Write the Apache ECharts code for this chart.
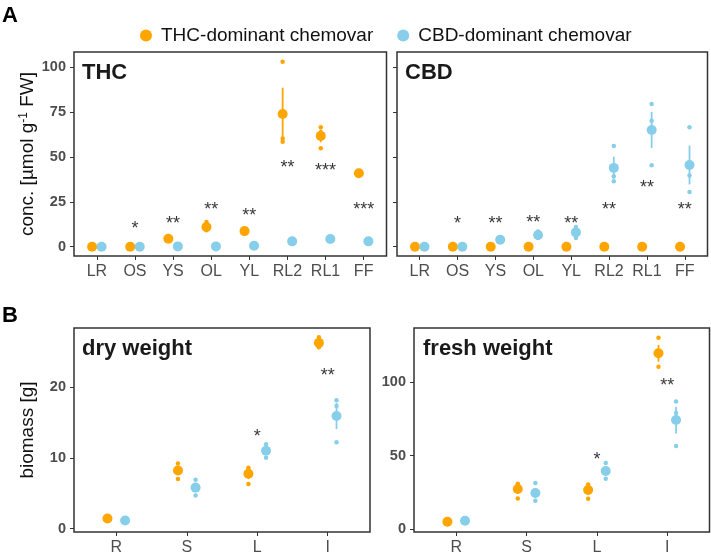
<!DOCTYPE html>
<html><head><meta charset="utf-8">
<script src="https://cdn.jsdelivr.net/npm/echarts@6/dist/echarts.min.js"></script>
<style>html,body{margin:0;padding:0;background:#fff}#c{width:711px;height:559px}</style>
</head><body><div id="c"></div>
<script>
// ---------- DATA ----------
const chemCats = ['LR','OS','YS','OL','YL','RL2','RL1','FF'];
const bioCats = ['R','S','L','I'];
const groups = ['THC-dominant chemovar','CBD-dominant chemovar'];

// THC panel
const thcMeanT = [0, 0, 4.5, 11.0, 8.7, 73.9, 61.7, 40.9];
const thcLoT   = [0, 0, 4.0, 9.6, 8.0, 59.3, 58.2, 40.2];
const thcHiT   = [0, 0, 5.0, 12.4, 9.4, 88.5, 65.2, 41.6];
const thcRepT  = [[0,0,0],[0,0,0],[4.9,4.5,4.1],[13.8,10.0,9.2],[9.4,8.7,8.0],[103.0,60.2,58.4],[66.5,63.8,54.8],[41.5,40.9,40.3]];
const thcMeanC = [0, 0, 0.2, 0.2, 0.6, 3.0, 4.3, 3.0];
const thcLoC   = [0, 0, 0.1, 0.1, 0.4, 2.6, 3.8, 2.6];
const thcHiC   = [0, 0, 0.3, 0.3, 0.8, 3.4, 4.8, 3.4];
const thcRepC  = [[0,0,0],[0,0,0],[0.2,0.2,0.2],[0.2,0.2,0.2],[0.8,0.6,0.4],[3.5,3.0,2.5],[5.0,4.3,3.6],[3.4,3.0,2.6]];
const thcStarY = [null, 12.6, 15.3, 22.9, 19.7, 46.5, 44.6, 22.9];
const thcStars = ['', '*', '**', '**', '**', '**', '***', '***'];

// CBD panel
const cbdMeanT = [0, 0, 0, 0, 0, 0, 0, 0];
const cbdLoT   = [0, 0, 0, 0, 0, 0, 0, 0];
const cbdHiT   = [0, 0, 0, 0, 0, 0, 0, 0];
const cbdRepT  = [[0,0,0],[0,0,0],[0,0,0],[0,0,0],[0,0,0],[0,0,0],[0,0,0],[0,0,0]];
const cbdMeanC = [0, 0, 3.9, 6.5, 8.0, 43.9, 65.0, 45.5];
const cbdLoC   = [0, 0, 3.5, 5.4, 6.2, 37.8, 54.9, 34.7];
const cbdHiC   = [0, 0, 4.3, 7.6, 9.8, 50.1, 75.1, 56.3];
const cbdRepC  = [[0,0,0],[0,0,0],[4.5,3.8,3.4],[8.5,6.2,4.8],[11.0,8.2,4.8],[56.1,39.2,36.4],[79.4,70.2,45.4],[66.5,39.6,30.5]];
const cbdStarY = [null, 14.9, 15.3, 15.8, 15.3, 22.9, 35.3, 22.9];
const cbdStars = ['', '*', '**', '**', '**', '**', '**', '**'];

// dry weight panel
const dryMeanT = [1.45, 8.2, 7.75, 26.2];
const dryLoT   = [1.35, 7.56, 7.0, 25.8];
const dryHiT   = [1.55, 8.84, 8.45, 26.6];
const dryRepT  = [[1.5,1.4,1.45],[9.2,8.4,7.0],[8.6,8.3,6.3],[27.0,26.0,25.6]];
const dryMeanC = [1.17, 5.8, 11.0, 15.9];
const dryLoC   = [1.1, 5.16, 10.45, 14.05];
const dryHiC   = [1.25, 6.44, 11.55, 17.75];
const dryRepC  = [[1.2,1.1,1.2],[6.9,5.8,4.7],[11.9,11.1,10.0],[18.1,17.3,12.2]];
const dryStarY = [null, null, 13.6, 22.1];
const dryStars = ['', '', '*', '**'];

// fresh weight panel
const freshMeanT = [5.0, 27.2, 26.5, 119.5];
const freshLoT   = [4.8, 24.0, 23.3, 113.8];
const freshHiT   = [5.2, 30.4, 29.7, 125.2];
const freshRepT  = [[5.2,4.8,5.0],[30.8,29.9,20.8],[30.3,28.6,20.6],[130.1,118.0,110.4]];
const freshMeanC = [5.6, 24.5, 39.5, 74.1];
const freshLoC   = [5.4, 21.0, 36.4, 65.0];
const freshHiC   = [5.8, 28.0, 42.6, 83.2];
const freshRepC  = [[5.8,5.5,5.6],[31.3,23.0,19.3],[44.9,39.4,34.2],[86.8,78.9,56.5]];
const freshStarY = [null, null, 49.7, 100.0];
const freshStars = ['', '', '*', '**'];

const panelTitles = ['THC', 'CBD', 'dry weight', 'fresh weight'];
const chemTicks = [0, 25, 50, 75, 100];
const dryTicks = [0, 10, 20];
const freshTicks = [0, 50, 100];

// ---------- STYLE ----------
const ORANGE = '#FFA500', BLUE = '#87CEEB';
const FONT = 'Liberation Sans, Arial, sans-serif';
const DODGE = 0.125;

const chart = echarts.init(document.getElementById('c'), null, {renderer: 'canvas'});

const grids = [
  {left: 74, top: 52, width: 312.5, height: 204},
  {left: 397, top: 52, width: 310.5, height: 204},
  {left: 74, top: 328, width: 296, height: 204},
  {left: 414, top: 328, width: 295.5, height: 204}
].map(g => Object.assign(g, {show: true, borderColor: '#333', borderWidth: 1.5, backgroundColor: '#fff', containLabel: false}));

function xAxisFor(i, cats) {
  const idx = cats.map((_, k) => k);
  return {
    type: 'value', gridIndex: i, min: -0.6, max: cats.length - 0.4,
    axisLine: {show: false, onZero: false},
    splitLine: {show: false},
    axisTick: {show: true, length: 4, lineStyle: {color: '#333', width: 1}, customValues: idx},
    axisLabel: {show: true, customValues: idx, formatter: v => cats[Math.round(v)],
      color: '#4D4D4D', fontSize: 16, fontFamily: FONT, margin: 8}
  };
}
function yAxisFor(i, min, max, ticks, showLabels, name) {
  const a = {
    type: 'value', gridIndex: i, min: min, max: max,
    axisLine: {show: false, onZero: false},
    splitLine: {show: false},
    axisTick: {show: true, length: 4, lineStyle: {color: '#333', width: 1}, customValues: ticks},
    axisLabel: {show: showLabels, customValues: ticks, color: '#4D4D4D', fontSize: 14.5,
      fontWeight: 'bold', fontFamily: FONT, margin: 8}
  };
  if (name) {
    a.name = name;
    a.nameLocation = 'middle';
    a.nameGap = 37;
    a.nameTextStyle = {fontSize: 19, color: '#111', fontFamily: FONT,
      rich: {sup: {fontSize: 12, fontFamily: FONT, color: '#111', verticalAlign: 'top', lineHeight: 10}}};
  }
  return a;
}

const xAxes = [xAxisFor(0, chemCats), xAxisFor(1, chemCats), xAxisFor(2, bioCats), xAxisFor(3, bioCats)];
const yAxes = [
  yAxisFor(0, -5.15, 108.4, chemTicks, true, 'conc. [µmol g{sup|-1} FW]'),
  yAxisFor(1, -5.15, 108.4, chemTicks, false, null),
  yAxisFor(2, -0.46, 28.3, dryTicks, true, 'biomass [g]'),
  yAxisFor(3, -2.0, 136.7, freshTicks, true, null)
];

const series = [];
function addGroup(panel, name, color, off, mean, lo, hi, reps) {
  const repData = [];
  reps.forEach((r, k) => r.forEach(v => repData.push([k + off, v])));
  series.push({type: 'scatter', name: name, xAxisIndex: panel, yAxisIndex: panel,
    data: repData, symbol: 'circle', symbolSize: 4.5, itemStyle: {color: color, opacity: 1},
    z: 2, silent: true});
  series.push({type: 'custom', xAxisIndex: panel, yAxisIndex: panel, z: 3, silent: true,
    data: mean.map((m, k) => [k + off, lo[k], hi[k]]),
    encode: {x: 0, y: [1, 2]},
    renderItem: (params, api) => {
      const p1 = api.coord([api.value(0), api.value(1)]);
      const p2 = api.coord([api.value(0), api.value(2)]);
      return {type: 'line', shape: {x1: p1[0], y1: p1[1], x2: p2[0], y2: p2[1]},
        style: {stroke: color, lineWidth: 1.8}};
    }});
  series.push({type: 'scatter', name: name, xAxisIndex: panel, yAxisIndex: panel,
    data: mean.map((m, k) => [k + off, m]), symbol: 'circle', symbolSize: 10,
    itemStyle: {color: color, opacity: 1}, z: 4, silent: true});
}
function addStars(panel, ys, labels) {
  const d = [];
  ys.forEach((y, k) => { if (y !== null && labels[k]) d.push([k, y, labels[k]]); });
  series.push({type: 'scatter', xAxisIndex: panel, yAxisIndex: panel, data: d,
    symbolSize: 0, itemStyle: {color: 'rgba(0,0,0,0)'}, z: 5, silent: true,
    label: {show: true, position: 'inside', formatter: p => p.data[2], color: '#000',
      fontSize: 18, fontFamily: FONT, offset: [0, 4.5]}});
}

addGroup(0, groups[0], ORANGE, -DODGE, thcMeanT, thcLoT, thcHiT, thcRepT);
addGroup(0, groups[1], BLUE, DODGE, thcMeanC, thcLoC, thcHiC, thcRepC);
addStars(0, thcStarY, thcStars);
addGroup(1, groups[0], ORANGE, -DODGE, cbdMeanT, cbdLoT, cbdHiT, cbdRepT);
addGroup(1, groups[1], BLUE, DODGE, cbdMeanC, cbdLoC, cbdHiC, cbdRepC);
addStars(1, cbdStarY, cbdStars);
addGroup(2, groups[0], ORANGE, -DODGE, dryMeanT, dryLoT, dryHiT, dryRepT);
addGroup(2, groups[1], BLUE, DODGE, dryMeanC, dryLoC, dryHiC, dryRepC);
addStars(2, dryStarY, dryStars);
addGroup(3, groups[0], ORANGE, -DODGE, freshMeanT, freshLoT, freshHiT, freshRepT);
addGroup(3, groups[1], BLUE, DODGE, freshMeanC, freshLoC, freshHiC, freshRepC);
addStars(3, freshStarY, freshStars);

const titlePos = [[82, 75], [405, 75], [82, 351], [423, 351]];
const graphics = panelTitles.map((t, i) => ({
  type: 'text', left: titlePos[i][0], top: titlePos[i][1] - 13,
  style: {text: t, fontSize: 22, fontWeight: 'bold', fontFamily: FONT, fill: '#1a1a1a'}
}));
graphics.push({type: 'text', left: 2, top: 5, style: {text: 'A', fontSize: 22, fontWeight: 'bold', fontFamily: FONT, fill: '#000'}});
graphics.push({type: 'text', left: 2, top: 305, style: {text: 'B', fontSize: 22, fontWeight: 'bold', fontFamily: FONT, fill: '#000'}});

chart.setOption({
  animation: false,
  backgroundColor: '#fff',
  legend: {
    data: [{name: groups[0], icon: 'circle', itemStyle: {color: ORANGE}},
           {name: groups[1], icon: 'circle', itemStyle: {color: BLUE}}],
    left: 135, top: 21, itemWidth: 20, itemHeight: 12, itemGap: 24,
    textStyle: {fontSize: 19, color: '#111', fontFamily: FONT},
    selectedMode: false
  },
  grid: grids,
  xAxis: xAxes,
  yAxis: yAxes,
  series: series,
  graphic: graphics
});
</script></body></html>
